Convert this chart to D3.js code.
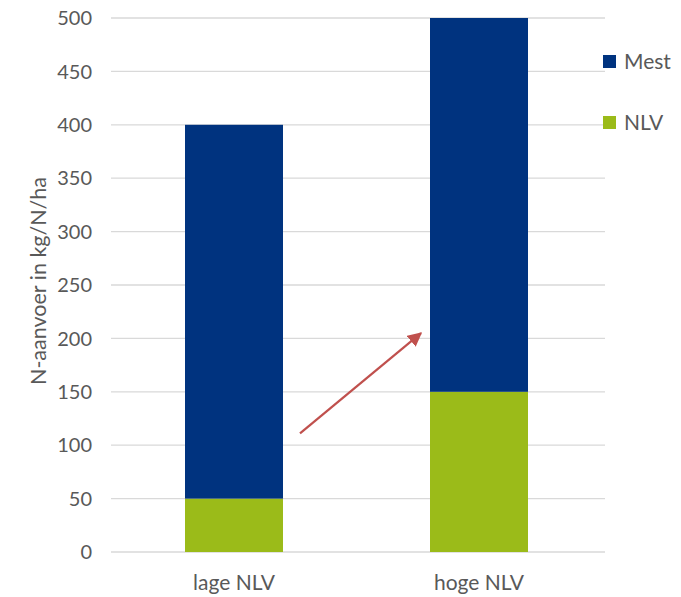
<!DOCTYPE html>
<html>
<head>
<meta charset="utf-8">
<script src="https://cdn.jsdelivr.net/npm/d3@7"></script>
<style>
  html, body { margin: 0; padding: 0; background: #fff; }
  svg text { font-family: Lato, "Open Sans", sans-serif; fill: #595959; }
</style>
</head>
<body>
<svg id="chart" width="681" height="597"></svg>
<script>
// Stacked N supply per scenario (kg N/ha)
const categories = ["lage NLV", "hoge NLV"];
const nlvValues = [50, 150];
const mestValues = [350, 350];
const seriesNames = ["Mest", "NLV"];
const yTicks = [0, 50, 100, 150, 200, 250, 300, 350, 400, 450, 500];
const yTitle = "N-aanvoer in kg/N/ha";

const colors = { Mest: "#00337F", NLV: "#9BBB19" };

const svg = d3.select("#chart");
const plotLeft = 111, plotRight = 605, plotTop = 18, plotBottom = 552;

const x = d3.scaleBand().domain(categories).range([plotLeft + 0.5, plotRight - 3.5])
  .paddingInner(0.6).paddingOuter(0.3);
const y = d3.scaleLinear().domain([0, 500]).range([plotBottom, plotTop]);

// gridlines
svg.append("g").selectAll("line").data(yTicks).join("line")
  .attr("x1", plotLeft).attr("x2", plotRight)
  .attr("y1", d => y(d)).attr("y2", d => y(d))
  .attr("stroke", "#D9D9D9").attr("stroke-width", 1.3);

// y tick labels
svg.append("g").selectAll("text").data(yTicks).join("text")
  .attr("x", 92).attr("y", d => y(d)).attr("dy", "0.36em")
  .attr("text-anchor", "end").attr("font-size", 20)
  .text(d => d);

// y axis title
svg.append("text")
  .attr("transform", `translate(46,${(plotTop + plotBottom) / 2 - 4}) rotate(-90)`)
  .attr("text-anchor", "middle").attr("font-size", 21.5)
  .text(yTitle);

// stacked bars
const rows = categories.map((c, i) => ({ cat: c, NLV: nlvValues[i], Mest: mestValues[i] }));
const stack = d3.stack().keys(["NLV", "Mest"])(rows);
svg.append("g").selectAll("g").data(stack).join("g")
  .attr("fill", s => colors[s.key])
  .selectAll("rect").data(s => s).join("rect")
  .attr("x", d => x(d.data.cat))
  .attr("width", x.bandwidth())
  .attr("y", d => y(d[1]))
  .attr("height", d => y(d[0]) - y(d[1]));

// category labels
svg.append("g").selectAll("text").data(categories).join("text")
  .attr("x", d => x(d) + x.bandwidth() / 2).attr("y", 590)
  .attr("text-anchor", "middle").attr("font-size", 21)
  .text(d => d);

// legend
const legend = svg.append("g").selectAll("g").data(seriesNames).join("g")
  .attr("transform", (d, i) => `translate(603,${55 + i * 61})`);
legend.append("rect").attr("width", 13).attr("height", 13).attr("fill", d => colors[d]);
legend.append("text").attr("x", 21).attr("y", 6.5).attr("dy", "0.36em")
  .attr("font-size", 21).text(d => d);

// arrow annotation between the bars
const arrowFrom = { value: 111 };
const arrowTo = { value: 205 };
svg.append("defs").append("marker")
  .attr("id", "arrowhead").attr("viewBox", "0 0 10 10")
  .attr("refX", 9).attr("refY", 5)
  .attr("markerWidth", 6.5).attr("markerHeight", 6.5)
  .attr("orient", "auto")
  .append("path").attr("d", "M0,0 L10,5 L0,10 Z").attr("fill", "#C0504D");
svg.append("line")
  .attr("x1", x("lage NLV") + x.bandwidth() + 17)
  .attr("y1", y(arrowFrom.value))
  .attr("x2", x("hoge NLV") - 9)
  .attr("y2", y(arrowTo.value))
  .attr("stroke", "#C0504D").attr("stroke-width", 2.2)
  .attr("marker-end", "url(#arrowhead)");
</script>
</body>
</html>
